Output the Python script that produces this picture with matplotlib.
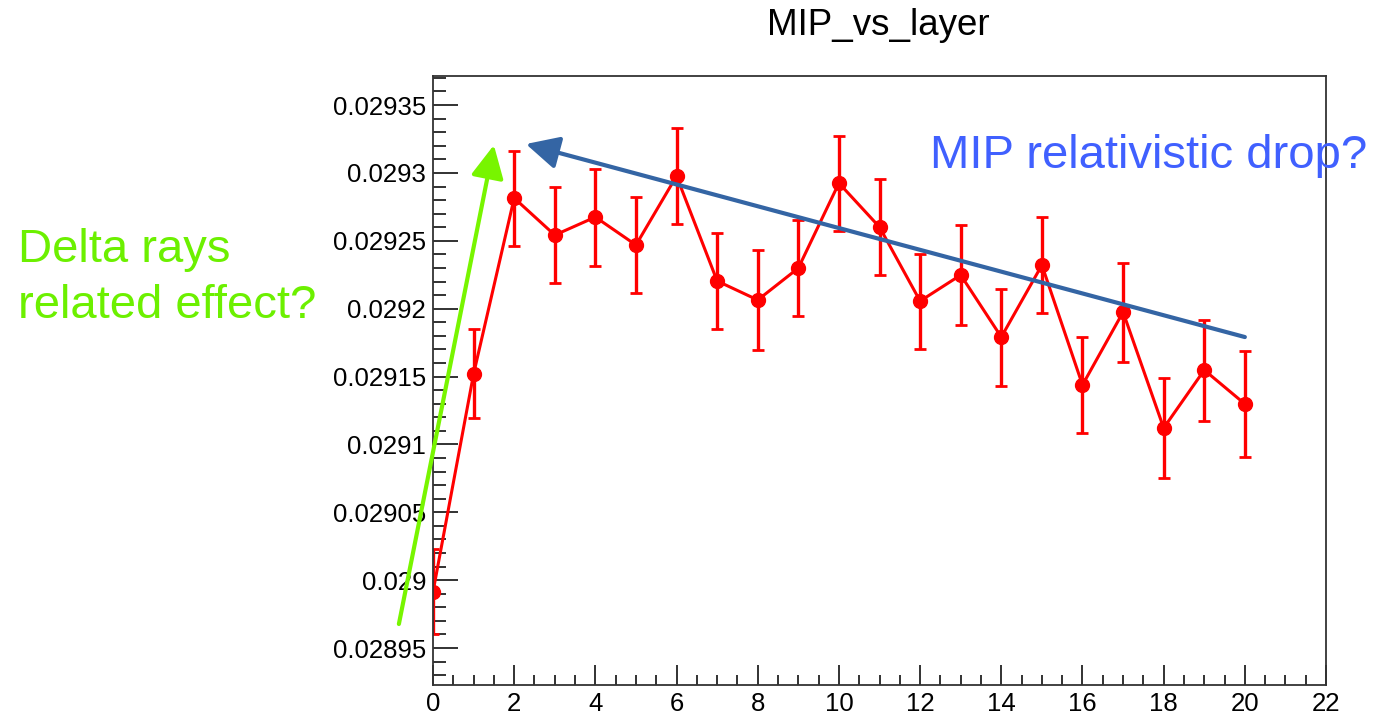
import numpy as np
import matplotlib
matplotlib.use('Agg')
import matplotlib.pyplot as plt
from matplotlib.ticker import MultipleLocator, FuncFormatter

plt.rcParams['font.family'] = ['Liberation Sans', 'DejaVu Sans']

# MIP peak position per layer, with fit errors
layer = np.arange(21)
mip = [0.0289913, 0.0291519, 0.0292815, 0.0292542, 0.0292675, 0.0292469,
       0.0292977, 0.0292204, 0.0292064, 0.0292299, 0.0292925, 0.0292601,
       0.0292056, 0.0292248, 0.0291791, 0.0292321, 0.0291438, 0.0291975,
       0.0291121, 0.0291548, 0.0291298]
mip_err = [0.0000313, 0.0000328, 0.0000350, 0.0000354, 0.0000357, 0.0000357,
           0.0000354, 0.0000357, 0.0000368, 0.0000354, 0.0000350, 0.0000354,
           0.0000350, 0.0000368, 0.0000357, 0.0000354, 0.0000357, 0.0000365,
           0.0000368, 0.0000372, 0.0000390]

title = 'MIP_vs_layer'
delta_label = 'Delta rays\nrelated effect?'
drop_label = 'MIP relativistic drop?'

fig = plt.figure(figsize=(13.75, 7.15), dpi=100)
ax = fig.add_axes([0.3149, 0.0420, 0.6495, 0.8517])

ax.errorbar(layer, mip, yerr=mip_err, color='#ff0000', lw=2.2, elinewidth=2.4,
            capsize=4, capthick=2.0, marker='o', markersize=10,
            markeredgecolor='#ff0000')

ax.set_xlim(0, 22)
ax.set_ylim(0.0289228, 0.0293714)

ax.xaxis.set_major_locator(MultipleLocator(2))
ax.xaxis.set_minor_locator(MultipleLocator(0.5))
ax.yaxis.set_major_locator(MultipleLocator(0.00005))
ax.yaxis.set_minor_locator(MultipleLocator(0.00001))
ax.yaxis.set_major_formatter(FuncFormatter(lambda v, p: '%g' % round(v, 6)))

ax.tick_params(axis='both', which='both', direction='in', top=False, right=False,
               labelsize=18.5, width=1.3, color='#222222')
ax.tick_params(axis='y', which='major', length=18, pad=5)
ax.tick_params(axis='y', which='minor', length=9.5)
ax.tick_params(axis='x', which='major', length=14.5, pad=5)
ax.tick_params(axis='x', which='minor', length=7)
for s in ax.spines.values():
    s.set_linewidth(1.3)
    s.set_color('#333333')

fig.text(0.6385, 0.951, title, ha='center', va='baseline', fontsize=26.5)

# annotations drawn on top of the frame
ax.annotate('', xy=(1.50, 0.0293205), xytext=(-0.84, 0.0289677),
            arrowprops=dict(arrowstyle='-|>,head_length=0.4,head_width=0.2',
                            mutation_scale=50, color='#78f500', lw=3,
                            shrinkA=0, shrinkB=0),
            annotation_clip=False)
ax.annotate('', xy=(2.29, 0.0293213), xytext=(20.0, 0.0291791),
            arrowprops=dict(arrowstyle='-|>,head_length=0.4,head_width=0.2',
                            mutation_scale=50, color='#3465a4', lw=3,
                            shrinkA=0, shrinkB=0),
            annotation_clip=False)

fig.text(18 / 1375, 1 - 318 / 715, delta_label, ha='left', va='baseline',
         fontsize=34, color='#6cf000', linespacing=1.35)
fig.text(930 / 1375, 1 - 168 / 715, drop_label, ha='left', va='baseline',
         fontsize=34, color='#4060ff')

fig.savefig('out.png', dpi=100)
